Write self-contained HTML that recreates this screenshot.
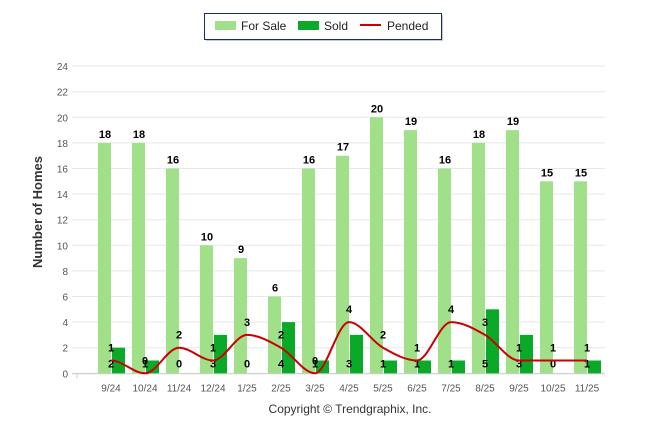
<!DOCTYPE html>
<html><head><meta charset="utf-8"><style>
html,body{margin:0;padding:0;background:#fff;width:646px;height:434px;overflow:hidden}
svg{display:block;font-family:"Liberation Sans",Arial,sans-serif}
</style></head><body>
<svg id="s" width="646" height="434" xmlns="http://www.w3.org/2000/svg">
<rect x="206" y="15" width="237" height="26" fill="#c8c8d0"/>
<rect x="204.5" y="13.5" width="237" height="26" fill="#fff" stroke="#1a2e5a" stroke-width="1"/>
<rect x="215" y="21" width="21" height="9" fill="#a0e088"/>
<text x="241" y="30" font-size="12" fill="#222">For Sale</text>
<rect x="298" y="21" width="21" height="9" fill="#0aaa28"/>
<text x="324" y="30" font-size="12" fill="#222">Sold</text>
<line x1="360" y1="25" x2="381" y2="25" stroke="#cc0000" stroke-width="2"/>
<text x="387" y="30" font-size="12" fill="#222">Pended</text>
<text transform="translate(42,212) rotate(-90)" text-anchor="middle" font-size="13" font-weight="bold" fill="#333">Number of Homes</text>
<text x="350" y="413" text-anchor="middle" font-size="12" fill="#333">Copyright © Trendgraphix, Inc.</text>
<g id="g"></g>
</svg>
<script>
var g=document.getElementById('g'),ns='http://www.w3.org/2000/svg',h='';
var y0=373.3,u=12.8,x0=111,dx=34;
function Y(v){return y0-v*u}
for(var i=0;i<=24;i+=2){var y=Y(i);h+='<line x1="72" x2="605" y1="'+y+'" y2="'+y+'" stroke="#e8e8e8" stroke-width="1"/>';h+='<text x="68" y="'+(y+4)+'" text-anchor="end" font-size="10" fill="#555">'+i+'</text>';}
h+='<line x1="72" x2="605" y1="'+(y0+0.5)+'" y2="'+(y0+0.5)+'" stroke="#ccc"/>';
var L=['9/24','10/24','11/24','12/24','1/25','2/25','3/25','4/25','5/25','6/25','7/25','8/25','9/25','10/25','11/25'];
var F=[18,18,16,10,9,6,16,17,20,19,16,18,19,15,15];
var S=[2,1,0,3,0,4,1,3,1,1,1,5,3,0,1];
var P=[1,0,2,1,3,2,0,4,2,1,4,3,1,1,1];
h+='<line x1="77" x2="77" y1="'+y0+'" y2="'+(y0+5)+'" stroke="#ccc"/>';
for(var i=0;i<15;i++){var c=x0+i*dx;
h+='<rect x="'+(c-13)+'" y="'+Y(F[i])+'" width="13" height="'+(F[i]*u)+'" fill="#a0e088"/>';
h+='<rect x="'+(c+1)+'" y="'+Y(S[i])+'" width="13" height="'+(S[i]*u)+'" fill="#0aaa28"/>';
h+='<text x="'+(c-6)+'" y="'+(Y(F[i])-5)+'" text-anchor="middle" font-size="11" font-weight="bold" fill="#000">'+F[i]+'</text>';
h+='<text x="'+c+'" y="'+(y0+18)+'" text-anchor="middle" font-size="10" fill="#555">'+L[i]+'</text>';
h+='<text x="'+c+'" y="'+(y0-6)+'" text-anchor="middle" font-size="11" font-weight="bold" fill="#000">'+S[i]+'</text>';
h+='<text x="'+c+'" y="'+(Y(P[i])-9)+'" text-anchor="middle" font-size="11" font-weight="bold" fill="#000">'+P[i]+'</text>';
}
var d='M'+x0+' '+Y(P[0]);
for(var i=0;i<14;i++){var xa=x0+i*dx,xb=xa+dx;
var m0=(i>0)?(P[i+1]-P[i-1])/2:0, m1=(i<13)?(P[i+2]-P[i])/2:0;
if(P[i]==0||(i>0&&((P[i]-P[i-1])*(P[i+1]-P[i])<=0)))m0=0;
if(P[i+1]==0||(i<13&&((P[i+1]-P[i])*(P[i+2]-P[i+1])<=0)))m1=0;
d+=' C'+(xa+dx/3)+' '+Y(P[i]+m0/3)+' '+(xb-dx/3)+' '+Y(P[i+1]-m1/3)+' '+xb+' '+Y(P[i+1]);}
h+='<path d="'+d+'" fill="none" stroke="#cc0000" stroke-width="2"/>';
g.innerHTML=h;
</script>
</body></html>
